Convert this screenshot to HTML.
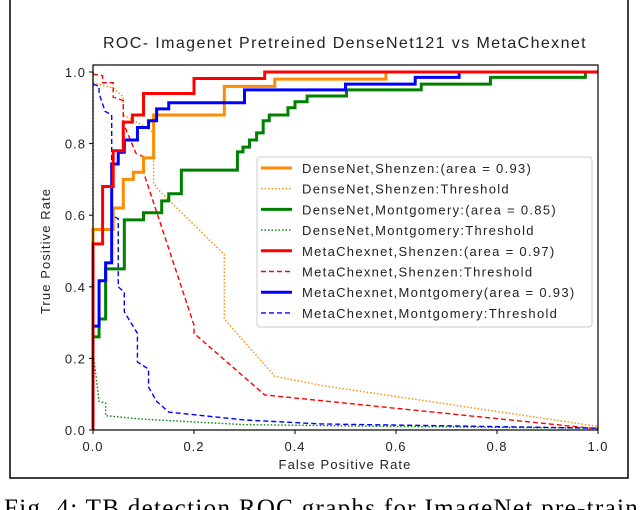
<!DOCTYPE html>
<html><head><meta charset="utf-8"><style>
html,body{margin:0;padding:0;background:#fff;width:640px;height:510px;overflow:hidden}
svg{display:block;font-family:"Liberation Sans",sans-serif}
</style></head><body>
<svg id="chart" width="640" height="510">
<rect x="10" y="-2" width="618" height="480" fill="none" stroke="#000" stroke-width="1.5"/>
<text x="345" y="48" text-anchor="middle" font-size="16" letter-spacing="1.4" fill="#222">ROC- Imagenet Pretreined DenseNet121 vs MetaChexnet</text>
<text x="345" y="469" text-anchor="middle" font-size="13" letter-spacing="1.1" fill="#222">False Positive Rate</text>
<text transform="translate(50,251) rotate(-90)" text-anchor="middle" font-size="13" letter-spacing="1.1" fill="#222">True Positive Rate</text>
<text x="4" y="516" font-family="Liberation Serif,serif" font-size="25" textLength="660" lengthAdjust="spacing" fill="#000">Fig. 4: TB detection ROC graphs for ImageNet pre-trained</text>
<g id="series"></g>
<rect x="93" y="65" width="505" height="365" fill="none" stroke="#000" stroke-width="1.2"/>
<g id="ticks"></g>
<g id="legend"></g>
</svg>
<script>
const tickValues = [0, 0.2, 0.4, 0.6, 0.8, 1.0];
const tickLabels = ["0.0", "0.2", "0.4", "0.6", "0.8", "1.0"];
const seriesNames = ["DenseNet,Shenzen:(area = 0.93)","DenseNet,Shenzen:Threshold","DenseNet,Montgomery:(area = 0.85)","DenseNet,Montgomery:Threshold","MetaChexnet,Shenzen:(area = 0.97)","MetaChexnet,Shenzen:Threshold","MetaChexnet,Montgomery(area = 0.93)","MetaChexnet,Montgomery:Threshold"];
const dsFpr = [0, 0.04, 0.06, 0.08, 0.1, 0.12, 0.26, 0.36, 0.58, 1.0];
const dsTpr = [0.56, 0.62, 0.70, 0.72, 0.76, 0.88, 0.96, 0.98, 1.0, 1.0];
const dmFpr = [0, 0.012, 0.025, 0.062, 0.1, 0.136, 0.15, 0.175, 0.286, 0.297, 0.31, 0.324, 0.337, 0.349, 0.386, 0.40, 0.424, 0.502, 0.65, 0.787, 0.975, 1.0];
const dmTpr = [0.26, 0.31, 0.45, 0.587, 0.607, 0.64, 0.66, 0.726, 0.777, 0.79, 0.81, 0.83, 0.864, 0.88, 0.90, 0.917, 0.933, 0.95, 0.966, 0.985, 1.0, 1.0];
const msFpr = [0, 0.019, 0.04, 0.06, 0.078, 0.1, 0.2, 0.34, 1.0];
const msTpr = [0.52, 0.68, 0.78, 0.86, 0.88, 0.94, 0.982, 1.0, 1.0];
const mmFpr = [0, 0.012, 0.025, 0.037, 0.05, 0.062, 0.088, 0.11, 0.126, 0.15, 0.30, 0.50, 0.638, 0.725, 1.0];
const mmTpr = [0.29, 0.417, 0.467, 0.743, 0.776, 0.81, 0.845, 0.864, 0.897, 0.914, 0.95, 0.966, 0.985, 1.0, 1.0];
const dsThX = [0, 0.04, 0.06, 0.06, 0.1, 0.12, 0.12, 0.13, 0.26, 0.26, 0.36, 0.45, 1.0];
const dsThY = [0.97, 0.955, 0.93, 0.88, 0.85, 0.83, 0.69, 0.67, 0.49, 0.31, 0.15, 0.125, 0.01];
const dmThX = [0, 0, 0.012, 0.025, 0.025, 0.062, 0.1, 0.3, 0.6, 1.0];
const dmThY = [1.0, 0.22, 0.08, 0.075, 0.04, 0.035, 0.03, 0.015, 0.01, 0.005];
const msThX = [0, 0.019, 0.019, 0.04, 0.04, 0.06, 0.06, 0.085, 0.1, 0.1, 0.2, 0.2, 0.34, 1.0];
const msThY = [0.994, 0.99, 0.97, 0.97, 0.93, 0.92, 0.857, 0.773, 0.763, 0.72, 0.293, 0.27, 0.098, 0.003];
const mmThX = [0, 0.012, 0.012, 0.024, 0.037, 0.037, 0.05, 0.05, 0.062, 0.062, 0.088, 0.088, 0.11, 0.11, 0.126, 0.15, 0.30, 0.45, 1.0];
const mmThY = [0.966, 0.96, 0.94, 0.89, 0.88, 0.60, 0.59, 0.40, 0.385, 0.33, 0.27, 0.19, 0.17, 0.12, 0.08, 0.05, 0.028, 0.017, 0.005];

const NS = "http://www.w3.org/2000/svg";
const X0 = 93, XW = 505, Y0 = 430, YH = 358;
function sx(v){ return X0 + v * XW; }
function sy(v){ return Y0 - v * YH; }
function stepPath(fx, ty){
  let d = "M" + sx(0) + "," + sy(0) + " L" + sx(fx[0]) + "," + sy(ty[0]);
  for (let i = 1; i < fx.length; i++){
    d += " L" + sx(fx[i]) + "," + sy(ty[i-1]) + " L" + sx(fx[i]) + "," + sy(ty[i]);
  }
  return d;
}
function linePath(xs, ys){
  return xs.map((x, i) => (i ? "L" : "M") + sx(x) + "," + sy(ys[i])).join(" ");
}
const g = document.getElementById("series");
function addPath(d, color, w, dash, name){
  const p = document.createElementNS(NS, "path");
  p.setAttribute("d", d);
  p.setAttribute("fill", "none");
  p.setAttribute("stroke", color);
  p.setAttribute("stroke-width", w);
  if (dash) p.setAttribute("stroke-dasharray", dash);
  
  
  g.appendChild(p);
}
addPath(linePath(dmThX, dmThY), "#008000", 1.4, "1.5,2", "densenet-montgomery-threshold-line");
addPath(linePath(dsThX, dsThY), "#ff8c00", 1.4, "1.5,2", "densenet-shenzen-threshold-line");
addPath(linePath(msThX, msThY), "#ff0000", 1.4, "5,3", "metachexnet-shenzen-threshold-line");
addPath(linePath(mmThX, mmThY), "#0000ff", 1.4, "5,3", "metachexnet-montgomery-threshold-line");
addPath(stepPath(dmFpr, dmTpr), "#008000", 3, null, "densenet-montgomery-roc-line");
addPath(stepPath(dsFpr, dsTpr), "#ff8c00", 3, null, "densenet-shenzen-roc-line");
addPath(stepPath(mmFpr, mmTpr), "#0000ff", 3, null, "metachexnet-montgomery-roc-line");
addPath(stepPath(msFpr, msTpr), "#ff0000", 3, null, "metachexnet-shenzen-roc-line");

const tg = document.getElementById("ticks");
tickValues.forEach((v, i) => {
  const a = document.createElementNS(NS, "line");
  a.setAttribute("x1", sx(v)); a.setAttribute("x2", sx(v));
  a.setAttribute("y1", 430); a.setAttribute("y2", 434);
  a.setAttribute("stroke", "#000");
  
  
  tg.appendChild(a);
  const t = document.createElementNS(NS, "text");
  t.setAttribute("x", sx(v)); t.setAttribute("y", 451);
  t.setAttribute("text-anchor", "middle"); t.setAttribute("font-size", "13"); t.setAttribute("letter-spacing", "1"); t.setAttribute("fill", "#222");
  t.textContent = tickLabels[i];
  
  
  tg.appendChild(t);
  const b = document.createElementNS(NS, "line");
  b.setAttribute("x1", 89); b.setAttribute("x2", 93);
  b.setAttribute("y1", sy(v)); b.setAttribute("y2", sy(v));
  b.setAttribute("stroke", "#000");
  
  
  tg.appendChild(b);
  const u = document.createElementNS(NS, "text");
  u.setAttribute("x", 86); u.setAttribute("y", sy(v) + 5);
  u.setAttribute("text-anchor", "end"); u.setAttribute("font-size", "13"); u.setAttribute("letter-spacing", "1"); u.setAttribute("fill", "#222");
  u.textContent = tickLabels[i];
  
  
  tg.appendChild(u);
});

const lg = document.getElementById("legend");
const box = document.createElementNS(NS, "rect");
box.setAttribute("x", 257); box.setAttribute("y", 157); box.setAttribute("width", 335); box.setAttribute("height", 170);
box.setAttribute("rx", 3); box.setAttribute("fill", "#fff"); box.setAttribute("fill-opacity", "0.85"); box.setAttribute("stroke", "#ccc");


lg.appendChild(box);
const legColors = ["#ff8c00","#ff8c00","#008000","#008000","#ff0000","#ff0000","#0000ff","#0000ff"];
const legDash = [null,"1.5,2",null,"1.5,2",null,"5,3",null,"5,3"];
seriesNames.forEach((n, i) => {
  const y = 168 + i * 20.7;
  const l = document.createElementNS(NS, "line");
  l.setAttribute("x1", 261); l.setAttribute("x2", 292); l.setAttribute("y1", y); l.setAttribute("y2", y);
  l.setAttribute("stroke", legColors[i]); l.setAttribute("stroke-width", legDash[i] ? 1.4 : 3);
  if (legDash[i]) l.setAttribute("stroke-dasharray", legDash[i]);
  
  
  lg.appendChild(l);
  const t = document.createElementNS(NS, "text");
  t.setAttribute("x", 302); t.setAttribute("y", y + 5);
  t.setAttribute("font-size", "13"); t.setAttribute("letter-spacing", "1.3"); t.setAttribute("fill", "#222");
  t.textContent = n;
  
  
  lg.appendChild(t);
});
</script>
</body></html>
